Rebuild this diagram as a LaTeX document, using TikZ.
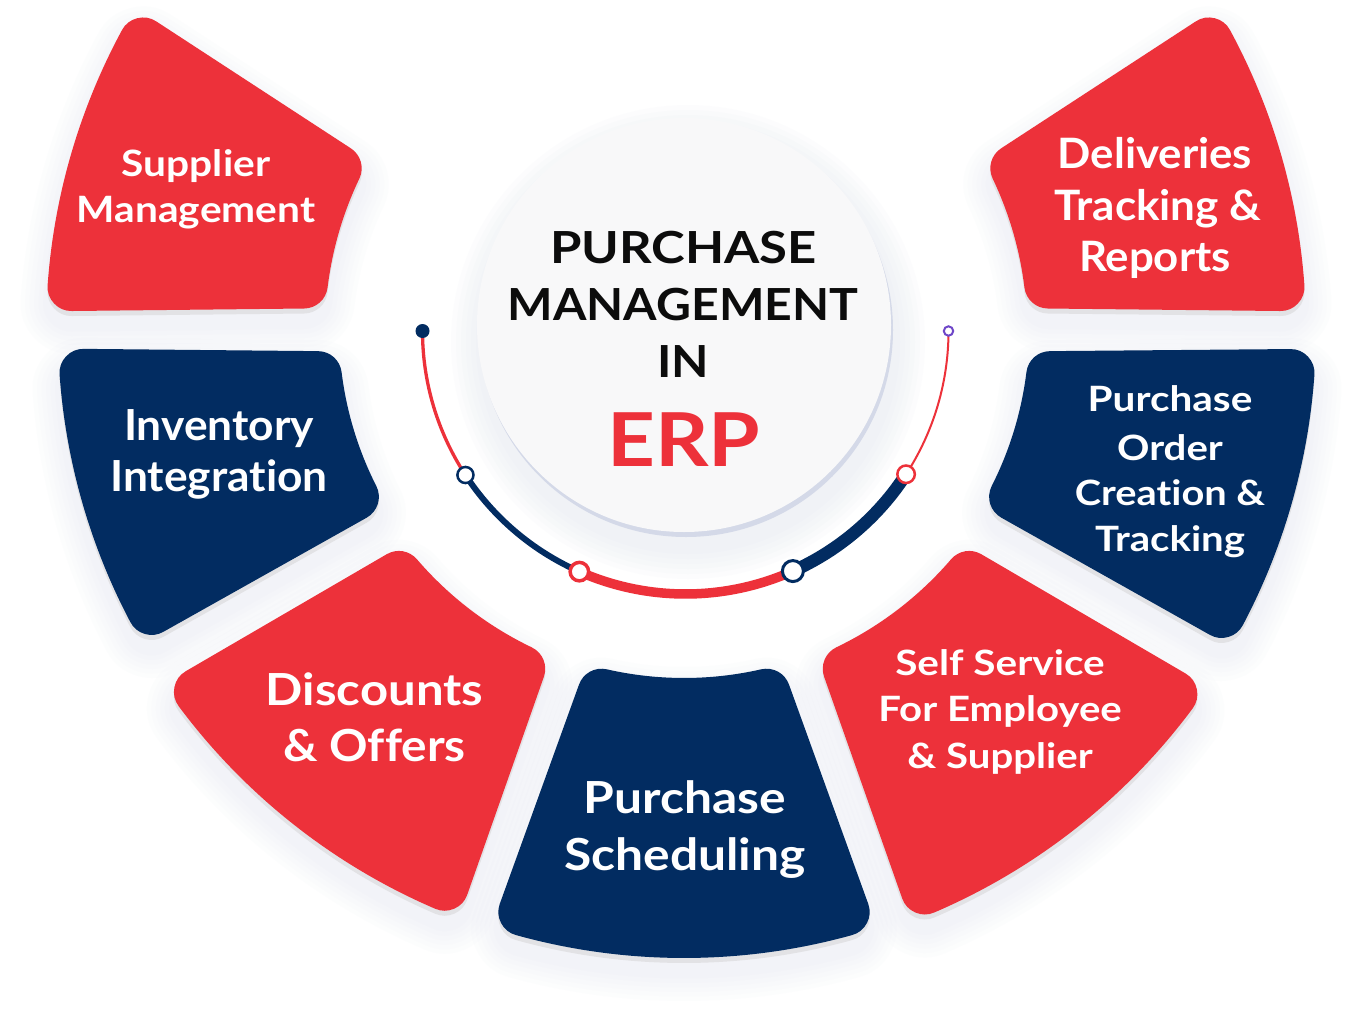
\documentclass[tikz,border=0pt]{standalone}
\usepackage{graphicx}
\usepackage{fontspec}
\setmainfont{Lato}[Ligatures={NoCommon,NoRare,NoContextual}]
\usetikzlibrary{calc}

\definecolor{pred}{RGB}{237,49,58}
\definecolor{pnavy}{RGB}{2,44,97}
\definecolor{pband}{RGB}{226,226,229}
\definecolor{phalo}{RGB}{190,196,222}
\definecolor{cfill}{RGB}{248,248,249}
\definecolor{cring}{RGB}{212,217,232}
\definecolor{ppurple}{RGB}{110,70,200}
\definecolor{tblack}{RGB}{12,12,12}

\newcommand\mkcore[8]{%
  \pgfmathsetmacro\pRi{#3+24}%
  \pgfmathsetmacro\pRo{#4-24}%
  \pgfmathsetmacro\pAi{#5+24/\pRi*57.2958}%
  \pgfmathsetmacro\pAo{#6+24/\pRo*57.2958}%
  \pgfmathsetmacro\pBi{#7-24/\pRi*57.2958}%
  \pgfmathsetmacro\pBo{#8-24/\pRo*57.2958}%
  \def\pcx{#1}\def\pcy{#2}%
  \def\pcore{([shift={(\pcx,\pcy)}]\pAo:\pRo) arc[start angle=\pAo,end angle=\pBo,radius=\pRo] -- ([shift={(\pcx,\pcy)}]\pBi:\pRi) arc[start angle=\pBi,end angle=\pAi,radius=\pRi] -- cycle}%
}
\newcommand\petalhalo[1]{\foreach \k in {1,...,6}{\pgfmathsetmacro\lw{48+\k*9}\draw[phalo,draw opacity=0.03,line width=\lw pt,line join=round,shift={(0,16)}] \pcore;}}
\newcommand\petalband[1]{\filldraw[pband,line width=48pt,line join=round,shift={(0,5)}] \pcore;}
\newcommand\petalbody[1]{\filldraw[#1,line width=48pt,line join=round] \pcore;}
\newcommand\allpetals[1]{%
  \mkcore{676}{330}{351}{630}{183.3}{181.8}{209.2}{210.7}#1{pred}%
  \mkcore{684}{330}{345}{626}{149.4}{149.9}{176.7}{178.2}#1{pnavy}%
  \mkcore{684}{330}{352}{630}{112.0}{111.0}{143.0}{145.6}#1{pred}%
  \mkcore{684}{330}{348}{628}{73.5}{72.2}{106.5}{107.8}#1{pnavy}%
  \mkcore{684}{330}{352}{634}{37.0}{34.4}{68.0}{69.0}#1{pred}%
  \mkcore{684}{330}{345}{632}{3.3}{1.8}{30.6}{30.1}#1{pnavy}%
  \mkcore{676}{330}{351}{630}{-29.2}{-30.7}{-3.3}{-1.8}#1{pred}%
}
\newcommand\sx[2]{\scalebox{#1}[1]{#2}}

\tikzset{
  ptxt/.style={text=white, inner sep=0pt, anchor=base, font=\bfseries},
  ttl/.style={text=tblack, inner sep=0pt, anchor=base},
  dotnode/.style={circle, inner sep=0pt, fill=white},
}

\begin{document}
\begin{tikzpicture}[x=1pt,y=-1pt]
\useasboundingbox (0,0) rectangle (1354,1028);
\fill[white] (0,0) rectangle (1354,1028);

% petals: soft halo, grey band, body
\allpetals{\petalhalo}
\allpetals{\petalband}
\allpetals{\petalbody}

% centre circle with shadow
\foreach \k in {1,...,6}{\pgfmathsetmacro\rr{207+\k*5}\fill[phalo,fill opacity=0.035] (688,342) circle (\rr);}
\fill[cring] (686,330) circle (207);
\node[circle, fill=cfill, minimum size=414pt, inner sep=0pt] (hub) at (684,325) {};

% track arc
\coordinate (AC) at (685.5,331);
\coordinate (d0) at ([shift={(685.5,331)}]180:263);
\coordinate (d1) at ([shift={(685.5,331)}]146.8:263);
\coordinate (d2) at ([shift={(685.5,331)}]113.8:263);
\coordinate (d3) at ([shift={(685.5,331)}]65.9:263);
\coordinate (d4) at ([shift={(685.5,331)}]33.0:263);
\coordinate (d5) at ([shift={(685.5,331)}]0:263);
\draw[pred, line width=3.3pt] (d0) arc[start angle=180, end angle=146.8, radius=263];
\draw[pnavy, line width=6pt] (d1) arc[start angle=146.8, end angle=113.8, radius=263];
\draw[pred, line width=9.5pt] (d2) arc[start angle=113.8, end angle=65.9, radius=263];
\draw[pnavy, line width=12.5pt] (d3) arc[start angle=65.9, end angle=33.0, radius=263];
\draw[pred, line width=2pt] (d4) arc[start angle=33.0, end angle=0, radius=263];

\node[circle, inner sep=0pt, fill=pnavy, minimum size=14pt] (n0) at (d0) {};
\node[dotnode, draw=pnavy, line width=2.5pt, minimum size=16.1pt] (n1) at (d1) {};
\node[dotnode, draw=pred, line width=3.5pt, minimum size=18.5pt] (n2) at (d2) {};
\node[dotnode, draw=pnavy, line width=3pt, minimum size=21pt] (n3) at (d3) {};
\node[dotnode, draw=pred, line width=2.5pt, minimum size=17.5pt] (n4) at (d4) {};
\node[dotnode, draw=ppurple, line width=2pt, minimum size=9.4pt] (n5) at (d5) {};

% title
\node[ttl, font=\bfseries\fontsize{44.2}{50}\selectfont] (t1) at (683.5,263.3) {\sx{1.15}{PURCHASE}};
\node[ttl, font=\bfseries\fontsize{44.2}{50}\selectfont] (t2) at (683,320.7) {\sx{1.09}{MANAGEMENT}};
\node[ttl, font=\bfseries\fontsize{44.2}{50}\selectfont] (t3) at (683,377.7) {\sx{1.1}{IN}};
\node[ttl, text=pred, font=\bfseries\fontsize{74.4}{80}\selectfont] (t4) at (684,466.7) {\sx{1.12}{ERP}};

% petal texts
\node[ptxt, font=\bfseries\fontsize{36.3}{40}\selectfont] (s1) at (196,176) {\sx{1.12}{Supplier}};
\node[ptxt, font=\bfseries\fontsize{36.3}{40}\selectfont] (s2) at (196,222.7) {\sx{1.12}{Management}};

\node[ptxt, font=\bfseries\fontsize{42.8}{48}\selectfont] (i1) at (219,440) {\sx{1.035}{Inventory}};
\node[ptxt, font=\bfseries\fontsize{42.8}{48}\selectfont] (i2) at (219,491.7) {\sx{1.035}{Integration}};

\node[ptxt, font=\bfseries\fontsize{44.2}{50}\selectfont] (o1) at (374.5,705) {\sx{1.11}{Discounts}};
\node[ptxt, font=\bfseries\fontsize{44.2}{50}\selectfont] (o2) at (374.5,761.7) {\sx{1.08}{\& Offers}};

\node[ptxt, font=\bfseries\fontsize{44.2}{50}\selectfont] (p1) at (685,813) {\sx{1.125}{Purchase}};
\node[ptxt, font=\bfseries\fontsize{44.2}{50}\selectfont] (p2) at (685,870) {\sx{1.125}{Scheduling}};

\node[ptxt, font=\bfseries\fontsize{34.9}{40}\selectfont] (e1) at (1000,675) {\sx{1.16}{Self Service}};
\node[ptxt, font=\bfseries\fontsize{34.9}{40}\selectfont] (e2) at (1000,721.7) {\sx{1.15}{For Employee}};
\node[ptxt, font=\bfseries\fontsize{34.9}{40}\selectfont] (e3) at (1000,768.3) {\sx{1.15}{\& Supplier}};

\node[ptxt, font=\bfseries\fontsize{34.9}{40}\selectfont] (c1) at (1170,411.7) {\sx{1.16}{Purchase}};
\node[ptxt, font=\bfseries\fontsize{34.9}{40}\selectfont] (c2) at (1170,460) {\sx{1.15}{Order}};
\node[ptxt, font=\bfseries\fontsize{34.9}{40}\selectfont] (c3) at (1170,505) {\sx{1.14}{Creation \&}};
\node[ptxt, font=\bfseries\fontsize{34.9}{40}\selectfont] (c4) at (1170,551.7) {\sx{1.15}{Tracking}};

\node[ptxt, font=\bfseries\fontsize{41.9}{48}\selectfont] (r1) at (1155,168.3) {\sx{1.045}{Deliveries}};
\node[ptxt, font=\bfseries\fontsize{41.9}{48}\selectfont] (r2) at (1158,220) {\sx{1.05}{Tracking \&}};
\node[ptxt, font=\bfseries\fontsize{41.9}{48}\selectfont] (r3) at (1155,271.7) {\sx{1.045}{Reports}};
\end{tikzpicture}
\end{document}
